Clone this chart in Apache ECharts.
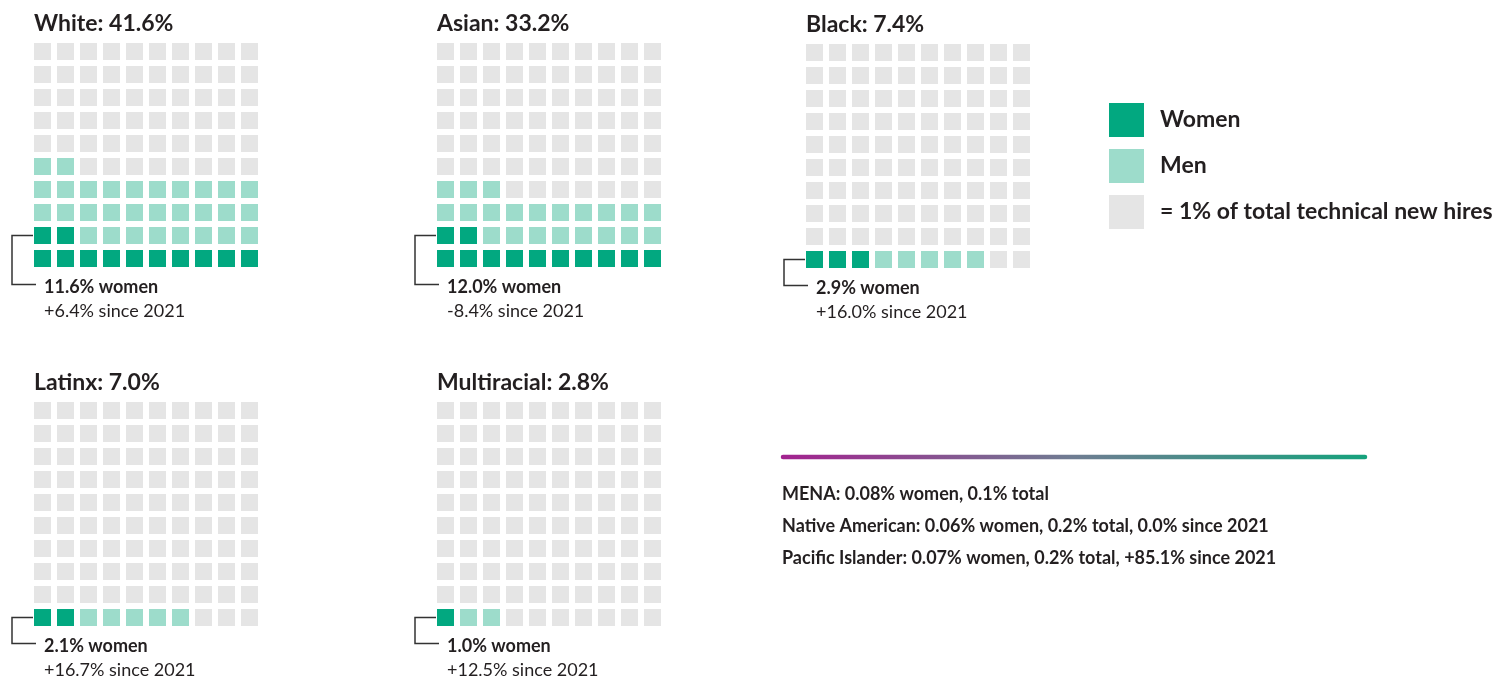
<!DOCTYPE html>
<html>
<head>
<meta charset="utf-8">
<script src="https://cdn.jsdelivr.net/npm/echarts@6/dist/echarts.min.js"></script>
<style>
  html, body { margin: 0; padding: 0; background: #fff; }
  #chart { width: 1496px; height: 677px; }
</style>
</head>
<body>
<div id="chart"></div>
<script>
// data
const groups = ['White', 'Asian', 'Black', 'Latinx', 'Multiracial'];
const totalPct = ['41.6%', '33.2%', '7.4%', '7.0%', '2.8%'];
const womenPct = ['11.6%', '12.0%', '2.9%', '2.1%', '1.0%'];
const sinceLast = ['+6.4%', '-8.4%', '+16.0%', '+16.7%', '+12.5%'];
// squares filled in each 10x10 waffle (1 square = 1%)
const womenCells = [12, 12, 3, 2, 1];
const menCells = [30, 21, 5, 5, 2];
const legendNames = ['Women', 'Men', '= 1% of total technical new hires'];
const notes = [
  'MENA: 0.08% women, 0.1% total',
  'Native American: 0.06% women, 0.2% total, 0.0% since 2021',
  'Pacific Islander: 0.07% women, 0.2% total, +85.1% since 2021'
];

const colors = ['#02a880', '#9ddccb', '#e5e5e5'];
const textColor = '#231f20';
const font = 'Lato, "Open Sans", sans-serif';

// grid placement for each waffle (left / top of the 230x230 box)
const boxes = [
  { left: 31, top: 40 },
  { left: 434, top: 40 },
  { left: 803, top: 41 },
  { left: 31, top: 399 },
  { left: 434, top: 399 }
];
const pitch = 23;
const cell = 17;

const grids = [], xAxes = [], yAxes = [], series = [], graphics = [];

groups.forEach((name, g) => {
  const b = boxes[g];
  grids.push({ left: b.left, top: b.top, width: pitch * 10, height: pitch * 10 });
  xAxes.push({ type: 'value', gridIndex: g, min: -0.5, max: 9.5, show: false });
  yAxes.push({ type: 'value', gridIndex: g, min: -0.5, max: 9.5, show: false });

  const buckets = [[], [], []];
  for (let i = 0; i < 100; i++) {
    const pt = [i % 10, Math.floor(i / 10)];
    if (i < womenCells[g]) buckets[0].push(pt);
    else if (i < womenCells[g] + menCells[g]) buckets[1].push(pt);
    else buckets[2].push(pt);
  }
  buckets.forEach((d, k) => {
    series.push({
      type: 'scatter',
      name: legendNames[k],
      xAxisIndex: g,
      yAxisIndex: g,
      symbol: 'rect',
      symbolSize: cell,
      itemStyle: { color: colors[k], opacity: 1 },
      emphasis: { disabled: true },
      silent: true,
      data: d
    });
  });

  // titles, labels and bracket
  const x0 = b.left + (pitch - cell) / 2;          // left edge of first square
  const bottomRow = b.top + pitch * 9.5;           // centre of bottom row
  const topWomenRow = bottomRow - pitch * Math.floor((womenCells[g] - 1) / 10);
  graphics.push({
    type: 'text', x: x0, y: b.top - 16,
    style: { text: name + ': ' + totalPct[g], font: 'bold 23px ' + font, fill: textColor, verticalAlign: 'middle' }
  });
  graphics.push({
    type: 'text', x: x0 + 10, y: bottomRow + 28.5,
    style: { text: womenPct[g] + ' women', font: 'bold 18px ' + font, fill: textColor, verticalAlign: 'middle' }
  });
  graphics.push({
    type: 'text', x: x0 + 10, y: bottomRow + 53,
    style: { text: sinceLast[g] + ' since 2021', font: '18px ' + font, fill: textColor, verticalAlign: 'middle' }
  });
  const vx = x0 - 22;
  graphics.push({
    type: 'polyline',
    shape: { points: [[x0 - 1, topWomenRow], [vx, topWomenRow], [vx, bottomRow + 26], [x0 + 2, bottomRow + 26]] },
    style: { stroke: '#333', lineWidth: 1.5, fill: null }
  });
});

// gradient rule and the small groups
graphics.push({
  type: 'line',
  shape: { x1: 783, y1: 457, x2: 1365, y2: 457 },
  style: {
    lineWidth: 4.5, lineCap: 'round',
    stroke: new echarts.graphic.LinearGradient(0, 0, 1, 0, [
      { offset: 0, color: '#a3228f' },
      { offset: 0.5, color: '#6f7d92' },
      { offset: 1, color: '#15a27c' }
    ])
  }
});
notes.forEach((t, i) => {
  graphics.push({
    type: 'text', x: 782, y: 494 + i * 32,
    style: { text: t, font: 'bold 18px ' + font, fill: textColor, verticalAlign: 'middle' }
  });
});

const chart = echarts.init(document.getElementById('chart'));
chart.setOption({
  animation: false,
  grid: grids,
  xAxis: xAxes,
  yAxis: yAxes,
  legend: {
    data: legendNames,
    orient: 'vertical',
    left: 1109,
    top: 103,
    padding: 0,
    icon: 'rect',
    itemWidth: 35,
    itemHeight: 34,
    itemGap: 12,
    selectedMode: false,
    textStyle: { fontFamily: font, fontWeight: 'bold', fontSize: 23, color: textColor, padding: [5, 0, 0, 11] }
  },
  series: series,
  graphic: graphics
});
</script>
</body>
</html>
